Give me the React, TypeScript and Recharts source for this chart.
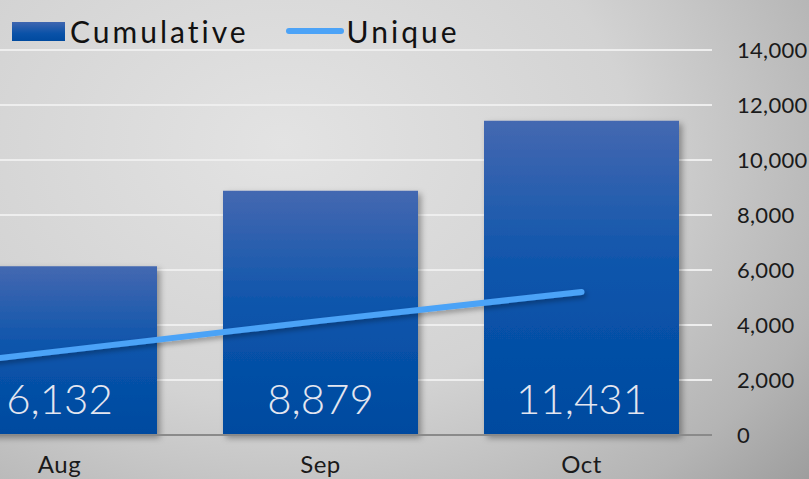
import React from 'react';
import {
    Bar,
    CartesianGrid,
    ComposedChart,
    LabelList,
    Legend,
    Line,
    XAxis,
    YAxis,
} from 'recharts';

// Jul sits off the left edge, only the line coming in from it shows
const months = ['Jul', 'Aug', 'Sep', 'Oct'];
const cumulative = [3300, 6132, 8879, 11431];
const unique = [1950, 3050, 4150, 5200];
const yTicks = [0, 2000, 4000, 6000, 8000, 10000, 12000, 14000];

const chartData = months.map((m, i) => ({
    month: m,
    cumulative: cumulative[i],
    unique: unique[i],
}));

const FONT = 'Lato, "Open Sans", sans-serif';
const SHIFT = 332;

const fmt = (v: number) => v.toLocaleString('en-US');

const LegendBox = () => (
    <div
        style={{
            display: 'flex',
            alignItems: 'center',
            fontFamily: FONT,
            fontSize: 30,
            color: '#111',
            letterSpacing: 3,
            lineHeight: '30px',
            height: 30,
        }}
    >
        <span
            style={{
                width: 53,
                height: 19,
                background: 'linear-gradient(#3f66b0, #0a52a8 60%, #004a9f)',
                marginRight: 5,
            }}
        />
        <span>Cumulative</span>
        <span
            style={{
                width: 58,
                height: 6,
                borderRadius: 3,
                background: '#4ca3f7',
                marginLeft: 37,
                marginRight: 3,
            }}
        />
        <span>Unique</span>
    </div>
);

const App = () => {
    return (
        <div
            style={{
                position: 'absolute',
                left: 0,
                top: 0,
                width: 809,
                height: 479,
                overflow: 'hidden',
                background:
                    'radial-gradient(ellipse 95% 120% at 35% 30%, #e3e3e3 0%, #d3d3d3 45%, #b4b4b4 75%, #8e8e8e 100%)',
            }}
        >
            <div style={{ position: 'absolute', left: -SHIFT, top: 0 }}>
                <ComposedChart
                    width={809 + SHIFT}
                    height={479}
                    data={chartData}
                    margin={{ top: 20, right: 0, bottom: 0, left: 0 }}
                >
                    <defs>
                        <linearGradient id="barFill" x1="0" y1="0" x2="0" y2="1">
                            <stop offset="0%" stopColor="#4468b1" />
                            <stop offset="50%" stopColor="#0a54ab" />
                            <stop offset="100%" stopColor="#004a9f" />
                        </linearGradient>
                        <filter id="shadow" x="-10%" y="-10%" width="130%" height="130%">
                            <feDropShadow dx="3" dy="3" stdDeviation="3" floodColor="#000" floodOpacity="0.35" />
                        </filter>
                        <filter id="lineShadow" x="-10%" y="-50%" width="130%" height="200%">
                            <feDropShadow dx="2" dy="3" stdDeviation="2.5" floodColor="#000" floodOpacity="0.3" />
                        </filter>
                    </defs>
                    <CartesianGrid vertical={false} stroke="#eeeeee" strokeWidth={2} />
                    <XAxis
                        dataKey="month"
                        height={44}
                        axisLine={{ stroke: '#8a8a8a', strokeWidth: 2 }}
                        tickLine={false}
                        tickMargin={15}
                        tick={{ fill: '#1a1a1a', fontSize: 24, fontFamily: FONT, letterSpacing: 0.5 }}
                    />
                    <YAxis
                        orientation="right"
                        width={97}
                        domain={[0, 14000]}
                        ticks={yTicks}
                        axisLine={false}
                        tickLine={false}
                        tickMargin={19}
                        tickFormatter={fmt}
                        tick={{ fill: '#1a1a1a', fontSize: 22, fontFamily: FONT, textAnchor: 'start', letterSpacing: 0.3 }}
                    />
                    <Legend
                        verticalAlign="top"
                        align="left"
                        content={<LegendBox />}
                        wrapperStyle={{ top: 16, left: SHIFT + 12, width: 500, height: 30 }}
                    />
                    <Bar
                        dataKey="cumulative"
                        name="Cumulative"
                        barSize={195}
                        fill="url(#barFill)"
                        filter="url(#shadow)"
                        isAnimationActive={false}
                    >
                        <LabelList
                            dataKey="cumulative"
                            position="insideBottom"
                            offset={21}
                            formatter={(v: any) => fmt(Number(v))}
                            fill="#e4e6f0"
                            fontSize={42}
                            fontFamily={FONT}
                            fontWeight={300}
                        />
                    </Bar>
                    <Line
                        dataKey="unique"
                        name="Unique"
                        type="linear"
                        stroke="#4ca3f7"
                        strokeWidth={6}
                        strokeLinecap="round"
                        dot={false}
                        activeDot={false}
                        filter="url(#lineShadow)"
                        isAnimationActive={false}
                    />
                </ComposedChart>
            </div>
        </div>
    );
};

export default App;
